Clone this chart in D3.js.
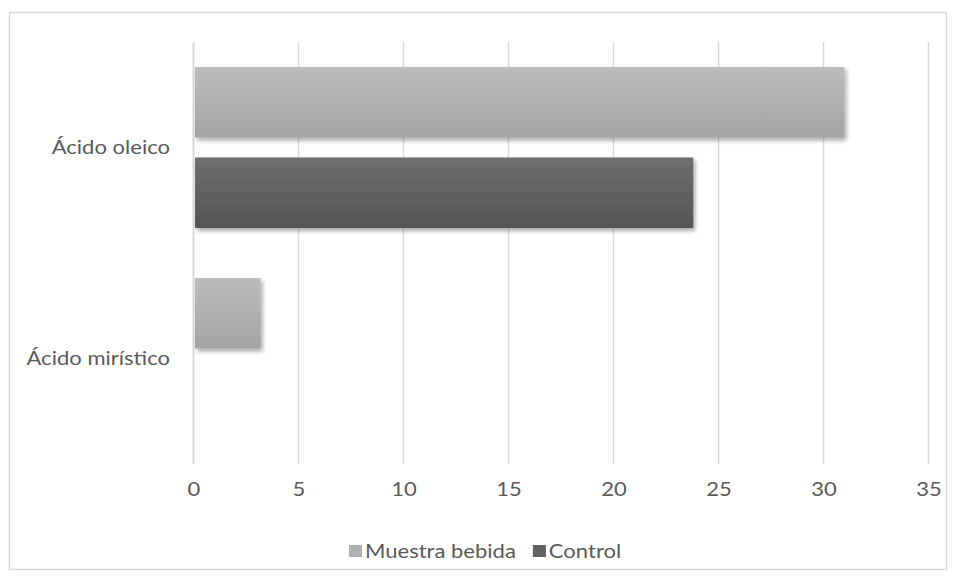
<!DOCTYPE html>
<html>
<head>
<meta charset="utf-8">
<script src="https://cdn.jsdelivr.net/npm/d3@7"></script>
<style>
  html, body { margin: 0; padding: 0; background: #fff; }
  svg { display: block; font-family: Lato, "Open Sans", sans-serif; }
</style>
</head>
<body>
<script>
// Fatty acid content: sample drink vs control
const categories = ["Ácido oleico", "Ácido mirístico"];
const seriesNames = ["Muestra bebida", "Control"];
const muestraBebida = [31.0, 3.2];
const control = [23.8, 0];
const xTicks = [0, 5, 10, 15, 20, 25, 30, 35];

const W = 956, H = 580;
const plot = { left: 193.5, right: 928.5, top: 42, bottom: 464 };
const FS = 19.5;      // label font size
const SX = 1.13;      // horizontal stretch of the label glyphs
const TEXT = "#595959";

const svg = d3.select("body").append("svg").attr("width", W).attr("height", H);

const defs = svg.append("defs");
function grad(id, top, bottom) {
  const g = defs.append("linearGradient").attr("id", id)
    .attr("x1", 0).attr("y1", 0).attr("x2", 0).attr("y2", 1);
  g.append("stop").attr("offset", "0%").attr("stop-color", top);
  g.append("stop").attr("offset", "100%").attr("stop-color", bottom);
}
grad("g-muestra", "#bcbcbc", "#a4a4a4");
grad("g-control", "#6f6f6f", "#545454");
const shadow = defs.append("filter").attr("id", "shadow")
  .attr("x", "-5%").attr("y", "-20%").attr("width", "115%").attr("height", "150%");
shadow.append("feDropShadow").attr("dx", 2).attr("dy", 3).attr("stdDeviation", 2.2)
  .attr("flood-color", "#000").attr("flood-opacity", 0.33);

// chart frame
svg.append("rect").attr("x", 9.5).attr("y", 12.5).attr("width", 937).attr("height", 557)
  .attr("fill", "#fff").attr("stroke", "#d9d9d9").attr("stroke-width", 1.5);

const x = d3.scaleLinear().domain([0, 35]).range([plot.left, plot.right]);
const y0 = d3.scaleBand().domain(categories).range([plot.top, plot.bottom]).paddingInner(0).paddingOuter(0);
const y1 = d3.scaleBand().domain(seriesNames).range([25, y0.bandwidth() - 25]).paddingInner(0.22);

// vertical gridlines
svg.append("g").selectAll("line").data(xTicks).join("line")
  .attr("x1", d => x(d)).attr("x2", d => x(d))
  .attr("y1", plot.top).attr("y2", plot.bottom)
  .attr("stroke", "#d9d9d9").attr("stroke-width", d => d === 0 ? 2 : 1.5);

// bars
const rows = categories.map((c, i) => ({ cat: c, vals: [muestraBebida[i], control[i]] }));
const fills = ["url(#g-muestra)", "url(#g-control)"];
svg.append("g").selectAll("g").data(rows).join("g")
  .attr("transform", d => `translate(0,${y0(d.cat)})`)
  .selectAll("rect")
  .data(d => d.vals.map((v, j) => ({ name: seriesNames[j], v, j })).filter(d => d.v > 0))
  .join("rect")
  .attr("x", x(0) + 1.5)
  .attr("y", d => y1(d.name))
  .attr("width", d => x(d.v) - x(0) - 1.5)
  .attr("height", y1.bandwidth())
  .attr("fill", d => fills[d.j])
  .attr("filter", "url(#shadow)");

// category labels
const yAxis = d3.axisLeft(y0).tickSize(0).tickPadding(0);
const ya = svg.append("g").attr("transform", `translate(${plot.left},0)`).call(yAxis);
ya.select(".domain").remove();
ya.selectAll("text")
  .attr("font-size", FS).attr("fill", TEXT).attr("font-family", "Lato, 'Open Sans', sans-serif")
  .attr("x", -23.5 / SX).attr("dy", "0.35em")
  .attr("transform", `scale(${SX},1)`);

// value axis labels
const xAxis = d3.axisBottom(x).tickValues(xTicks).tickSize(0).tickPadding(0);
const xa = svg.append("g").attr("transform", `translate(0,${plot.bottom})`).call(xAxis);
xa.select(".domain").remove();
xa.selectAll("text")
  .attr("font-size", FS).attr("fill", TEXT).attr("font-family", "Lato, 'Open Sans', sans-serif")
  .attr("y", 32).attr("dy", 0)
  .attr("transform", `scale(${SX},1)`);

// legend
const legendColors = ["#b0b0b0", "#606060"];
const legend = svg.append("g").attr("transform", "translate(0,551)");
const items = legend.selectAll("g").data(seriesNames).join("g");
let lx = 349;
items.each(function (d, i) {
  const g = d3.select(this).attr("transform", `translate(${lx},0)`);
  g.append("rect").attr("x", 0).attr("y", -6).attr("width", 13).attr("height", 12).attr("fill", legendColors[i]);
  const t = g.append("text").attr("x", 16 / SX).attr("y", 7).attr("font-size", FS)
    .attr("fill", TEXT).attr("transform", `scale(${SX},1)`).text(d);
  lx += 16 + t.node().getComputedTextLength() * SX + 17;
});
</script>
</body>
</html>
